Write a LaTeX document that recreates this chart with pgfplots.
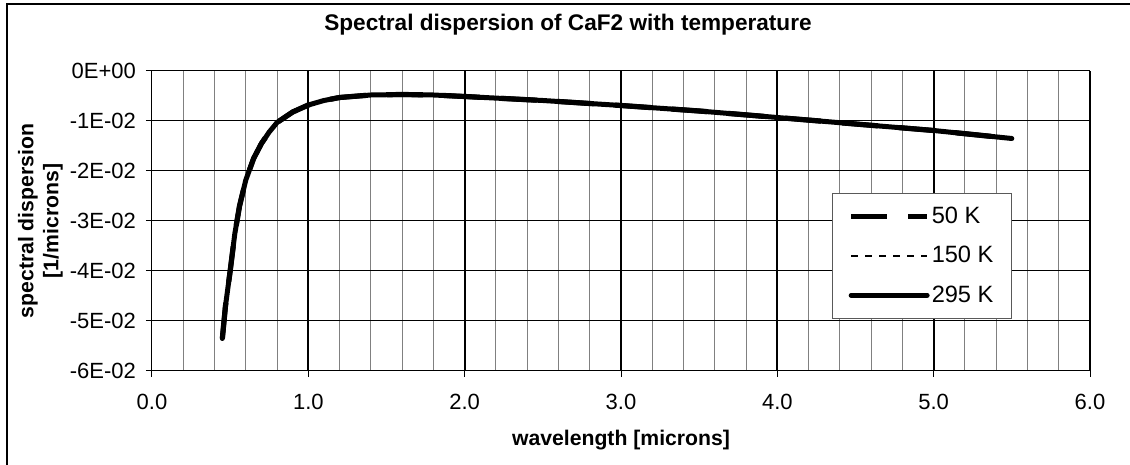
\documentclass[border=0pt]{standalone}
\usepackage{fontspec}
\setmainfont{Liberation Sans}
\usepackage{pgfplots}
\usepackage{pgfplotstable}
\pgfplotsset{compat=1.18}

% wavelength [microns] vs spectral dispersion [1/microns]
\pgfplotstableread{
lam     d50       d150      d295
0.45   -0.0535   -0.0535   -0.0535
0.47   -0.0470   -0.0470   -0.0470
0.50   -0.0400   -0.0400   -0.0400
0.53   -0.0325   -0.0325   -0.0325
0.56   -0.0270   -0.0270   -0.0270
0.60   -0.0218   -0.0218   -0.0218
0.65   -0.0175   -0.0175   -0.0175
0.70   -0.0145   -0.0145   -0.0145
0.75   -0.0122   -0.0122   -0.0122
0.80   -0.0103   -0.0103   -0.0103
0.90   -0.0082   -0.0082   -0.0082
1.00   -0.0068   -0.0068   -0.0068
1.10   -0.0059   -0.0059   -0.0059
1.20   -0.0053   -0.0053   -0.0053
1.40   -0.0048   -0.0048   -0.0048
1.60   -0.0047   -0.0047   -0.0047
1.80   -0.0048   -0.0048   -0.0048
2.00   -0.0051   -0.0051   -0.0051
2.50   -0.0059   -0.0059   -0.0059
3.00   -0.0069   -0.0069   -0.0069
3.50   -0.0080   -0.0080   -0.0080
4.00   -0.0093   -0.0093   -0.0093
4.50   -0.0106   -0.0106   -0.0106
5.00   -0.0119   -0.0119   -0.0119
5.50   -0.0135   -0.0135   -0.0135
}\dispdata

\newcommand{\tickfont}{\fontsize{11}{13}\selectfont}

\begin{document}
\begin{tikzpicture}
\useasboundingbox (-76pt,-47pt) rectangle (489pt,185.5pt);
\draw[line width=0.6pt] (-72.5pt,-48pt) rectangle (490pt,183.5pt);
\begin{axis}[
    scale only axis,
    width=469pt,
    height=150pt,
    clip=false,
    xmin=0, xmax=6,
    ymin=-0.06, ymax=0,
    axis x line*=bottom,
    axis y line*=left,
    axis line style={black, line width=0.5pt},
    tick align=outside,
    major tick length=3pt,
    minor tick length=0pt,
    tick style={black, line width=0.5pt},
    xtick={0,1,2,3,4,5,6},
    xticklabels={0.0,1.0,2.0,3.0,4.0,5.0,6.0},
    xticklabel style={font=\tickfont, yshift=-5pt},
    minor x tick num=4,
    xminorgrids=true,
    minor x grid style={gray, line width=0.5pt},
    extra x ticks={1,2,3,4,5,6},
    extra x tick labels={},
    extra x tick style={xmajorgrids=true, major x grid style={black, line width=1pt}, major tick length=0pt},
    ytick={-0.06,-0.05,-0.04,-0.03,-0.02,-0.01,0},
    yticklabels={-6E-02,-5E-02,-4E-02,-3E-02,-2E-02,-1E-02,0E+00},
    yticklabel style={font=\tickfont, xshift=-1.5pt},
    scaled y ticks=false,
    ymajorgrids=true,
    major y grid style={black, line width=0.5pt},
    xlabel={\textbf{wavelength [microns]}},
    every axis x label/.style={at={(rel axis cs:0.5,-0.23)}, anchor=center, font=\fontsize{10.6}{12}\selectfont},
    ylabel={\textbf{spectral dispersion}\\\textbf{[1/microns]}},
    every axis y label/.style={at={(rel axis cs:-0.1189,0.5)}, anchor=center, rotate=90, align=center, font=\fontsize{10.6}{12.5}\selectfont},
    legend style={at={(rel axis cs:0.725,0.593)}, anchor=north west, draw=gray!70!black, line width=0.5pt, fill=white,
        font=\fontsize{11.8}{14}\selectfont, inner xsep=8pt, inner ysep=5.5pt, row sep=8pt, column sep=0pt,
        nodes={inner sep=1pt}},
    legend cell align=left,
    legend image code/.code={\draw[#1] (0pt,0pt) -- (38pt,0pt);},
]
\addplot[black, line width=2.6pt, dash pattern=on 18pt off 10.5pt] table[x=lam, y=d50] {\dispdata};
\addlegendentry{50 K}
\addplot[black, line width=1.3pt, dash pattern=on 3.3pt off 3.7pt] table[x=lam, y=d150] {\dispdata};
\addlegendentry{150 K}
\addplot[black, line width=2.5pt, line cap=round, line join=round] table[x=lam, y=d295] {\dispdata};
\addlegendentry{295 K}
\node[anchor=center, font=\bfseries\fontsize{11.3}{13}\selectfont] at (rel axis cs:0.4435,1.1533) {Spectral dispersion of CaF2 with temperature};
\end{axis}
\end{tikzpicture}
\end{document}
